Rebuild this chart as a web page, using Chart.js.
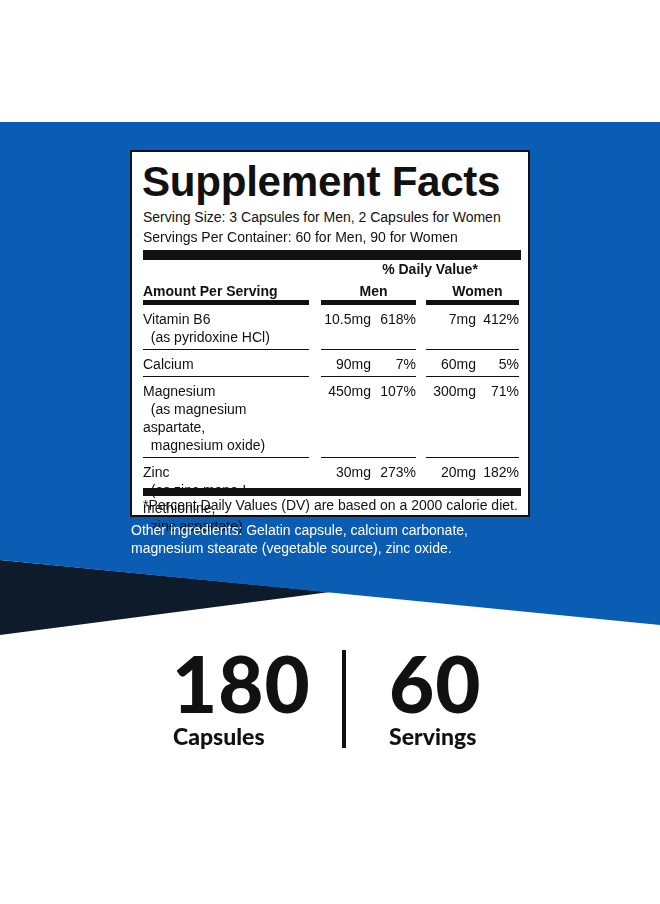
<!DOCTYPE html>
<html lang="en">
<head>
<meta charset="UTF-8">
<title>Supplement Facts</title>
<script src="https://cdn.jsdelivr.net/npm/chart.js"></script>
<style>
  body { margin:0; width:660px; height:904px; position:relative; overflow:hidden; background:#fff; font-family:"Liberation Sans", Arial, sans-serif; }
  #bg { position:absolute; left:0; top:0; }
  .label { position:absolute; left:130px; top:150px; width:396px; height:363px; background:#fff; border:2px solid #111; box-sizing:content-box; color:#111; }
  .title { position:absolute; left:10px; top:5px; font-size:43px; font-weight:900; letter-spacing:-0.3px; transform:scaleX(0.98); transform-origin:left; font-family:"Liberation Sans", Arial, sans-serif; }
  .line { position:absolute; left:11px; font-size:14px; }
  table { position:absolute; left:11px; top:108px; border-collapse:separate; border-spacing:0; font-size:14px; }
  td { padding:0; line-height:18px; vertical-align:top; }
  .g { width:12px; }
  .r { text-align:right; }
  .rule td.c { border-bottom:1px solid #111; }
  .bar { position:absolute; left:11px; width:378px; background:#111; }
  .other { position:absolute; left:131px; top:521px; width:400px; color:#fff; font-size:14px; line-height:18px; }
  .big { position:absolute; font-family:"Lato", sans-serif; font-weight:900; color:#111; }
</style>
</head>
<body>
<canvas id="bg" width="660" height="904"></canvas>

<div class="label">
  <div class="title">Supplement Facts</div>
  <div class="line" style="top:57px">Serving Size: 3 Capsules for Men, 2 Capsules for Women</div>
  <div class="line" style="top:77px">Servings Per Container: 60 for Men, 90 for Women</div>
  <div class="bar" style="top:98px;height:10px"></div>
  <table id="facts"></table>
  <div class="bar" style="top:336px;height:8px"></div>
  <div class="line" style="top:345px">*Percent Daily Values (DV) are based on a 2000 calorie diet.</div>
</div>

<div class="other">Other ingredients: Gelatin capsule, calcium carbonate, magnesium stearate (vegetable source), zinc oxide.</div>

<div class="big" style="left:172px;top:636px;font-size:78px;letter-spacing:1px">180</div>
<div class="big" style="left:173px;top:722px;font-size:23px">Capsules</div>
<div style="position:absolute;left:342px;top:650px;width:4px;height:98px;background:#111"></div>
<div class="big" style="left:389px;top:636px;font-size:78px;letter-spacing:1px">60</div>
<div class="big" style="left:389px;top:722px;font-size:23px">Servings</div>

<script>
// nutrients and amounts
var nutrients = ['Vitamin B6', 'Calcium', 'Magnesium', 'Zinc'];
var sources = [['(as pyridoxine HCl)'], [], ['(as magnesium aspartate,', 'magnesium oxide)'], ['(as zinc mono-L-methionine,', 'zinc aspartate)']];
var menAmount = ['10.5mg', '90mg', '450mg', '30mg'];
var menDV = ['618%', '7%', '107%', '273%'];
var womenAmount = ['7mg', '60mg', '300mg', '20mg'];
var womenDV = ['412%', '5%', '71%', '182%'];

// background shapes (page units, y downward)
var blueTop = [{x:0, y:122}, {x:660, y:122}];
var blueBottom = [{x:0, y:560}, {x:660, y:625}];
var navyTop = [{x:0, y:560}, {x:330, y:592}];
var navyBottom = [{x:0, y:635}, {x:330, y:592}];

// table
var t = document.getElementById('facts');
var h = '<tr><td style="width:166px"></td><td class="g"></td><td colspan="5" style="text-align:center;font-weight:bold;padding-left:20px">% Daily Value*</td></tr>';
h += '<tr><td style="font-weight:bold;border-bottom:5px solid #111;padding-top:4px">Amount Per Serving</td><td class="g"></td>' +
  '<td colspan="2" style="text-align:center;font-weight:bold;border-bottom:5px solid #111;padding-top:4px;padding-left:10px">Men</td><td style="width:10px"></td>' +
  '<td colspan="2" style="text-align:center;font-weight:bold;border-bottom:5px solid #111;padding-top:4px;padding-left:10px">Women</td></tr>';
for (var i = 0; i < nutrients.length; i++) {
  var last = i == nutrients.length - 1;
  var b = last ? '' : 'border-bottom:1px solid #111;';
  var name = nutrients[i] + sources[i].map(function(s){ return '<br>&nbsp;&nbsp;' + s; }).join('');
  h += '<tr><td style="' + b + 'padding:5px 0 3px 0">' + name + '</td><td></td>' +
    '<td class="r" style="' + b + 'width:50px;padding-top:5px">' + menAmount[i] + '</td>' +
    '<td class="r" style="' + b + 'width:45px;padding-top:5px">' + menDV[i] + '</td><td></td>' +
    '<td class="r" style="' + b + 'width:50px;padding-top:5px">' + womenAmount[i] + '</td>' +
    '<td class="r" style="' + b + 'width:43px;padding-top:5px">' + womenDV[i] + '</td></tr>';
}
t.innerHTML = h;

function shape(data, color, fill) {
  return { data: data, showLine: true, borderWidth: 0, pointRadius: 0, tension: 0,
    borderColor: color, backgroundColor: color, fill: fill };
}

new Chart(document.getElementById('bg'), {
  type: 'scatter',
  data: { datasets: [
    shape(blueBottom, '#0a5db3', false),
    shape(blueTop, '#0a5db3', '-1'),
    shape(navyTop, '#0e1b2b', false),
    shape(navyBottom, '#0e1b2b', '-1')
  ]},
  options: {
    responsive: false, animation: false,
    layout: { padding: 0 },
    plugins: { legend: { display: false }, tooltip: { enabled: false } },
    scales: {
      x: { type: 'linear', min: 0, max: 660, display: false },
      y: { type: 'linear', min: 0, max: 904, reverse: true, display: false }
    }
  }
});
</script>
</body>
</html>
